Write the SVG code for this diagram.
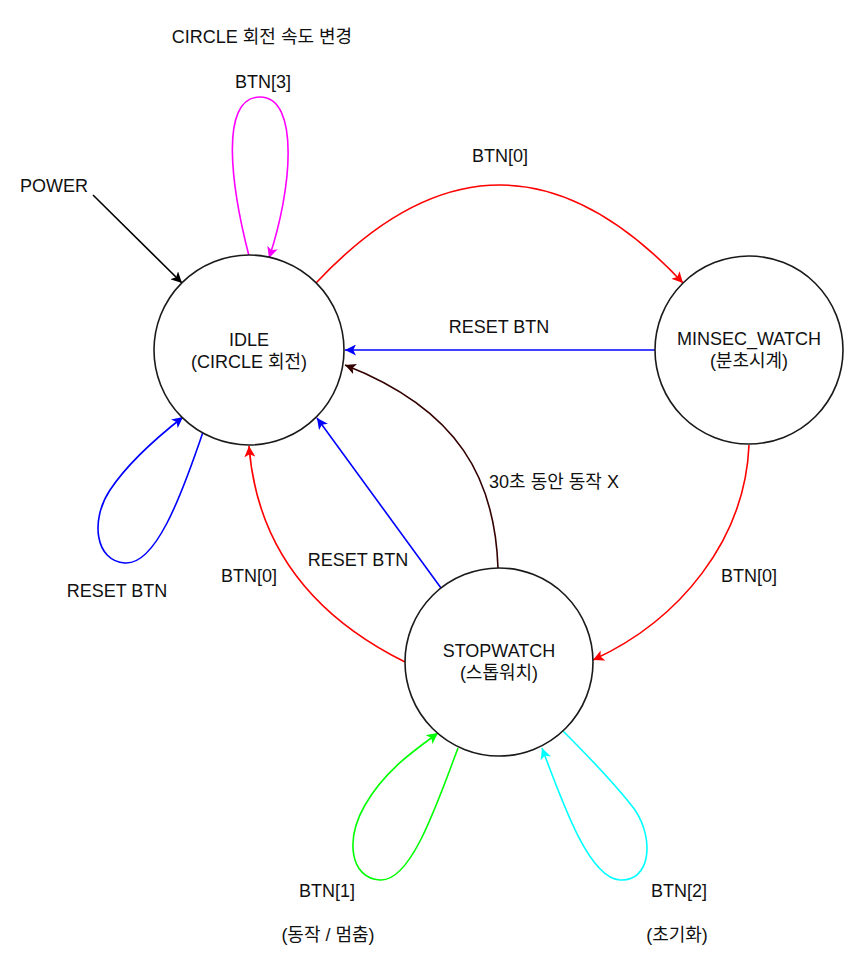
<svg xmlns="http://www.w3.org/2000/svg" width="856" height="957" viewBox="0 0 856 957">
<style>
.node{fill:#fff;stroke:#1a1a1a;stroke-width:1.6}
.t{font-family:"Liberation Sans","Noto Sans CJK KR",Arial,sans-serif;font-size:18px;fill:#111;text-anchor:middle}
.e{fill:none;stroke-width:1.6}
</style>
<defs>
<marker id="aK" viewBox="0 0 10 10" refX="10" refY="5" markerWidth="11" markerHeight="11" markerUnits="userSpaceOnUse" orient="auto"><path d="M0,0 L10,5 L0,10 L2.5,5 z" fill="#000"/></marker>
<marker id="aM" viewBox="0 0 10 10" refX="10" refY="5" markerWidth="11" markerHeight="11" markerUnits="userSpaceOnUse" orient="auto"><path d="M0,0 L10,5 L0,10 L2.5,5 z" fill="#ff00ff"/></marker>
<marker id="aR" viewBox="0 0 10 10" refX="10" refY="5" markerWidth="11" markerHeight="11" markerUnits="userSpaceOnUse" orient="auto"><path d="M0,0 L10,5 L0,10 L2.5,5 z" fill="#ff0000"/></marker>
<marker id="aB" viewBox="0 0 10 10" refX="10" refY="5" markerWidth="11" markerHeight="11" markerUnits="userSpaceOnUse" orient="auto"><path d="M0,0 L10,5 L0,10 L2.5,5 z" fill="#0000ff"/></marker>
<marker id="aW" viewBox="0 0 10 10" refX="10" refY="5" markerWidth="11" markerHeight="11" markerUnits="userSpaceOnUse" orient="auto"><path d="M0,0 L10,5 L0,10 L2.5,5 z" fill="#330000"/></marker>
<marker id="aG" viewBox="0 0 10 10" refX="10" refY="5" markerWidth="11" markerHeight="11" markerUnits="userSpaceOnUse" orient="auto"><path d="M0,0 L10,5 L0,10 L2.5,5 z" fill="#00ff00"/></marker>
<marker id="aC" viewBox="0 0 10 10" refX="10" refY="5" markerWidth="11" markerHeight="11" markerUnits="userSpaceOnUse" orient="auto"><path d="M0,0 L10,5 L0,10 L2.5,5 z" fill="#00ffff"/></marker>
</defs>
<rect width="856" height="957" fill="#fff"/>
<g id="connectors">
<path class="e" stroke="#000" d="M93,195 L182,283" marker-end="url(#aK)"/>
<path class="e" stroke="#ff00ff" d="M249,256 C232,190 218,97 260,97 C300,97 292,190 269,258" marker-end="url(#aM)"/>
<path class="e" stroke="#ff0000" d="M316,283 Q500,87 683,283" marker-end="url(#aR)"/>
<path class="e" stroke="#0000ff" d="M655,350 L345,350" marker-end="url(#aB)"/>
<path class="e" stroke="#330000" d="M498,568 C495,480 460,410 345,365" marker-end="url(#aW)"/>
<path class="e" stroke="#0000ff" d="M441,588 L317,418" marker-end="url(#aB)"/>
<path class="e" stroke="#ff0000" d="M405,662 Q260,590 249,446" marker-end="url(#aR)"/>
<path class="e" stroke="#ff0000" d="M749,445 C745,540 680,620 593,660" marker-end="url(#aR)"/>
<path class="e" stroke="#0000ff" d="M203,432 C180,500 155,565 125,563 C95,561 90,520 110,490 C130,460 160,435 183,417" marker-end="url(#aB)"/>
<path class="e" stroke="#00ff00" d="M458,748 C435,810 410,882 380,880 C350,878 345,840 365,805 C385,770 415,750 438,733" marker-end="url(#aG)"/>
<path class="e" stroke="#00ffff" d="M563,731 C590,758 620,790 635,810 C655,840 650,882 620,880 C590,878 565,810 542,748" marker-end="url(#aC)"/>
</g>
<g id="idle">
<circle class="node" cx="249" cy="350" r="95"/>
<text class="t" x="249" y="346">IDLE</text>
<text class="t" x="249" y="368">(CIRCLE 회전)</text>
</g>
<g id="minsec_watch">
<circle class="node" cx="749" cy="350" r="94"/>
<text class="t" x="749" y="345">MINSEC_WATCH</text>
<text class="t" x="749" y="367">(분초시계)</text>
</g>
<g id="stopwatch">
<circle class="node" cx="499" cy="662" r="94"/>
<text class="t" x="499" y="657">STOPWATCH</text>
<text class="t" x="499" y="679">(스톱워치)</text>
</g>
<g id="labels">
<text class="t" x="262" y="43">CIRCLE 회전 속도 변경</text>
<text class="t" x="263" y="88">BTN[3]</text>
<text class="t" x="54" y="192">POWER</text>
<text class="t" x="500" y="162">BTN[0]</text>
<text class="t" x="499" y="333">RESET BTN</text>
<text class="t" x="554" y="488">30초 동안 동작 X</text>
<text class="t" x="358" y="566">RESET BTN</text>
<text class="t" x="249" y="582">BTN[0]</text>
<text class="t" x="117" y="597">RESET BTN</text>
<text class="t" x="749" y="582">BTN[0]</text>
<text class="t" x="327" y="897">BTN[1]</text>
<text class="t" x="328" y="941">(동작 / 멈춤)</text>
<text class="t" x="679" y="897">BTN[2]</text>
<text class="t" x="677" y="941">(초기화)</text>
</g>
</svg>
